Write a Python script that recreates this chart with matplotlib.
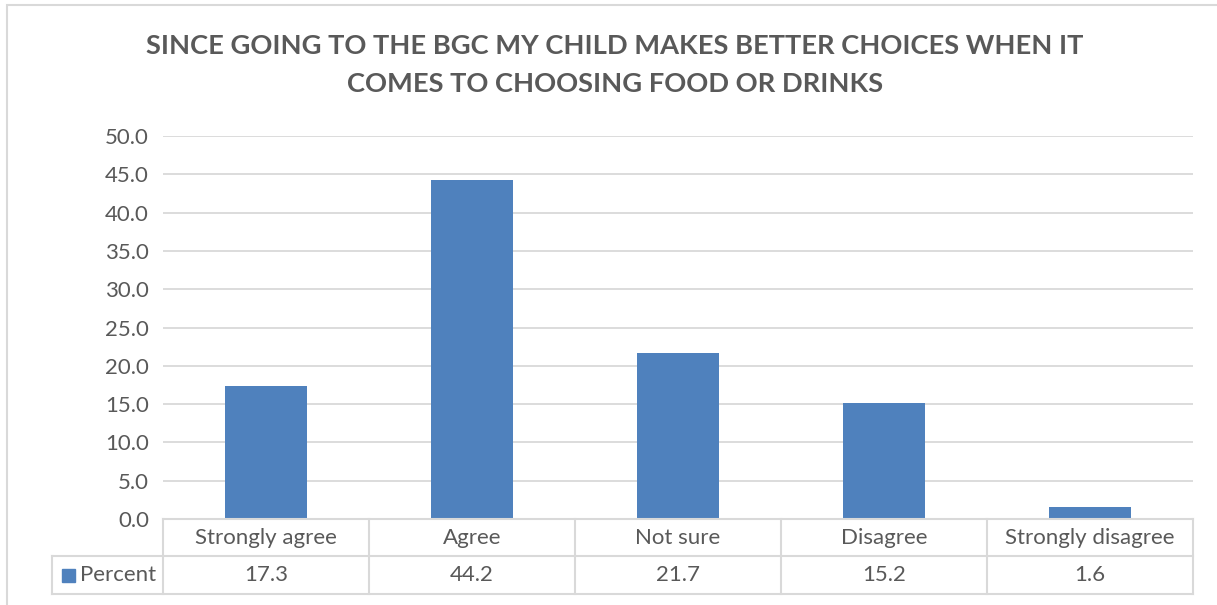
import matplotlib
matplotlib.use("Agg")
import matplotlib.pyplot as plt
from matplotlib.transforms import blended_transform_factory

categories = ["Strongly agree", "Agree", "Not sure", "Disagree", "Strongly disagree"]
values = [17.3, 44.2, 21.7, 15.2, 1.6]
series_name = "Percent"
title_lines = ["SINCE GOING TO THE BGC MY CHILD MAKES BETTER CHOICES WHEN IT",
               "COMES TO CHOOSING FOOD OR DRINKS"]
yticks = [0, 5, 10, 15, 20, 25, 30, 35, 40, 45, 50]

W, H = 1217, 605
TXT = "#595959"
GRID = "#d9d9d9"
BAR = "#4f81bd"
FS = 16
plt.rcParams['font.family'] = ['Lato', 'DejaVu Sans']

fig = plt.figure(figsize=(W / 100, H / 100), dpi=100)
# outer chart border
fig.add_artist(plt.Rectangle((7 / W, -0.01), 1.5, 1 - 5 / H + 0.01, transform=fig.transFigure,
                             fill=False, edgecolor=GRID, linewidth=1.5))

L, R, T, B = 163, 1193, 136, 519
ax = fig.add_axes([L / W, 1 - B / H, (R - L) / W, (B - T) / H])
x = list(range(len(categories)))
ax.bar(x, values, width=0.4, color=BAR, zorder=3)
ax.set_xlim(-0.5, len(categories) - 0.5)
ax.set_ylim(0, 50)
ax.set_yticks(yticks)
ax.set_yticklabels([f"{v:.1f}" for v in yticks], color=TXT, fontsize=FS)
ax.tick_params(axis='y', length=0, pad=10)
ax.set_xticks([])
for s in ax.spines.values():
    s.set_visible(False)
ax.grid(axis='y', color=GRID, linewidth=1.3, zorder=0)

for yy, line in zip([46, 84], title_lines):
    fig.text(615 / W, 1 - yy / H, line, ha='center', va='center', fontsize=19.6,
             fontweight='bold', color=TXT)

# data table
tr = blended_transform_factory(ax.transData, ax.transAxes)
ph = B - T
r1 = -37 / ph
r2 = -75 / ph
xl = -0.5 - (L - 52) * len(categories) / (R - L)
xe = len(categories) - 0.5
lk = dict(color=GRID, linewidth=1.5, transform=tr, clip_on=False, zorder=5)
ax.plot([-0.5, xe], [0, 0], **lk)
ax.plot([xl, xe], [r1, r1], **lk)
ax.plot([xl, xe], [r2, r2], **lk)
ax.plot([xl, xl], [r1, r2], **lk)
for i in range(len(categories) + 1):
    ax.plot([i - 0.5, i - 0.5], [0, r2], **lk)
for i, (c, v) in enumerate(zip(categories, values)):
    ax.text(i, r1 / 2, c, transform=tr, ha='center', va='center', fontsize=FS, color=TXT)
    ax.text(i, (r1 + r2) / 2, f"{v:.1f}", transform=tr, ha='center', va='center', fontsize=FS, color=TXT)
# legend key
px = len(categories) / (R - L)
kx = xl + 10 * px
kw = 13 * px
kh = 13 / ph
ax.add_patch(plt.Rectangle((kx, (r1 + r2) / 2 - kh / 2), kw, kh, transform=tr, color=BAR, clip_on=False))
ax.text(kx + kw + 5 * px, (r1 + r2) / 2, series_name, transform=tr,
        ha='left', va='center', fontsize=FS, color=TXT)

fig.savefig("out.png", dpi=100, facecolor='white')
